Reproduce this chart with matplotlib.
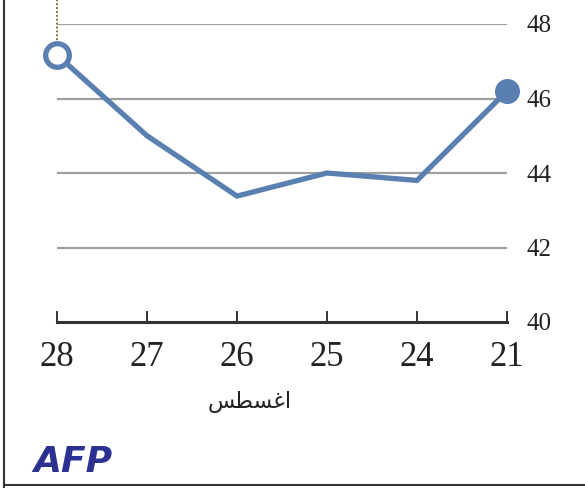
import numpy as np
import matplotlib.pyplot as plt
from matplotlib.lines import Line2D

# August days (shown right-to-left as in the source) and values
days = ['28', '27', '26', '25', '24', '21']
values = [47.17, 45.0, 43.38, 44.0, 43.8, 46.2]
y_ticks = [40, 42, 44, 46, 48]
# "اغسطس" written in shaped presentation forms, visual order
month_label = '\uFEB2\uFEC4\uFEB4\uFECF\uFE8D'

W, H = 585, 488
fig = plt.figure(figsize=(W / 100, H / 100), dpi=100)
fig.patch.set_facecolor('white')

ax = fig.add_axes([57 / W, 1 - 322 / H, (507 - 57) / W, (322 - 24) / H])
x = np.arange(len(days))
ax.set_xlim(0, len(days) - 1)
ax.set_ylim(40, 48)

# grid lines
for yv in y_ticks[1:]:
    ax.axhline(yv, color='#a0a0a0', lw=1.6, zorder=1)

blue = '#5a7fb1'
ax.plot(x, values, color=blue, lw=3.8, solid_joinstyle='miter', zorder=3, clip_on=False)
ax.plot(x[0], values[0], 'o', ms=17, mfc='white', mec=blue, mew=3.8, zorder=4, clip_on=False)
ax.plot(x[-1], values[-1], 'o', ms=17, mfc=blue, mec=blue, zorder=4, clip_on=False)

# dotted marker line above the first point
ax.plot([0, 0], [values[0] + 0.3, 48.7], color='#8a7030', lw=1.4, ls=(0, (1, 1)),
        zorder=2, clip_on=False)

for s in ['top', 'left', 'right']:
    ax.spines[s].set_visible(False)
ax.spines['bottom'].set_color('#333333')
ax.spines['bottom'].set_linewidth(2.2)

ax.set_xticks(x)
ax.set_xticklabels(days, fontsize=25, family='Liberation Serif', color='#222222')
ax.tick_params(axis='x', direction='in', length=8, width=1.4, color='#333333', pad=14)

ax.yaxis.tick_right()
ax.set_yticks(y_ticks)
ax.set_yticklabels([str(v) for v in y_ticks], fontsize=18, family='Liberation Serif',
                   color='#222222')
ax.tick_params(axis='y', length=0, pad=14)
ax.patch.set_alpha(0)

fig.text(250 / W, 1 - 402 / H, month_label, fontsize=16, family='DejaVu Sans',
         ha='center', va='center', color='#222222')

fig.text(33 / W, 1 - 462 / H, 'AFP', fontsize=26, fontweight='bold', style='italic',
         family='DejaVu Sans', color='#2b3190', ha='left', va='center')

# frame of the graphic
fig.add_artist(Line2D([4 / W, 4 / W], [0, 1], color='#333333', lw=1.5))
fig.add_artist(Line2D([4 / W, 1], [3 / H, 3 / H], color='#333333', lw=1.5))

fig.savefig('out.png', dpi=100)
